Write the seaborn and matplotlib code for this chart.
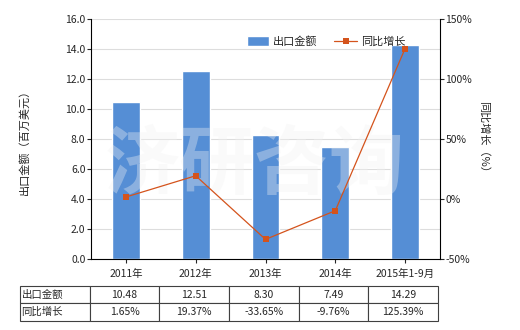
import matplotlib
matplotlib.use("Agg")
import matplotlib.pyplot as plt
import seaborn as sns
import pandas as pd

categories = ["2011年", "2012年", "2013年", "2014年", "2015年1-9月"]
export_values = [10.48, 12.51, 8.30, 7.49, 14.29]
growth_values = [1.65, 19.37, -33.65, -9.76, 125.39]
export_labels = ["10.48", "12.51", "8.30", "7.49", "14.29"]
growth_labels = ["1.65%", "19.37%", "-33.65%", "-9.76%", "125.39%"]
left_ticks = [0, 2, 4, 6, 8, 10, 12, 14, 16]
right_ticks = [-50, 0, 50, 100, 150]

sns.set_style("white")
plt.rcParams['font.family'] = ['Noto Sans CJK SC', 'DejaVu Sans']
plt.rcParams['axes.unicode_minus'] = False

bar_color = "#558ED5"
line_color = "#D4531C"

df = pd.DataFrame({"cat": categories, "export": export_values, "growth": growth_values})

fig = plt.figure(figsize=(5.2, 3.3), dpi=100)
ax = fig.add_axes([91/520, 1-259/330, 349/520, 240/330])

sns.barplot(data=df, x="cat", y="export", color=bar_color, width=0.4,
            saturation=1, ax=ax, label="出口金额", zorder=2)
ax.set_ylim(0, 16)
ax.set_yticks(left_ticks)
ax.set_yticklabels([f"{v:.1f}" for v in left_ticks], fontsize=7.5)
ax.set_xlim(-0.5, 4.5)
ax.set_xlabel("")
ax.set_ylabel("出口金额（百万美元）", fontsize=8)
ax.yaxis.set_label_coords(-0.175, 0.5)
ax.tick_params(axis='x', labelsize=7.5, length=3, direction='out', pad=4, bottom=True)
ax.tick_params(axis='y', length=3, direction='out', pad=1, left=True)
ax.grid(axis='y', color="#DDDDDD", linewidth=0.8, zorder=0)
ax.set_axisbelow(True)
for s in ["top", "right"]:
    ax.spines[s].set_visible(False)
for s in ["left", "bottom"]:
    ax.spines[s].set_color("black")
    ax.spines[s].set_linewidth(0.8)

ax.text(0.47, 0.39, "济研咨询", transform=ax.transAxes, fontsize=54, fontweight='bold',
        color="#F2F2F2", alpha=0.35, ha='center', va='center', zorder=3)

ax2 = ax.twinx()
sns.lineplot(x=list(range(len(categories))), y=growth_values, ax=ax2, color=line_color,
             linewidth=0.9, marker='s', markersize=4, markeredgewidth=0,
             label="同比增长", legend=False, zorder=4)
ax2.set_ylim(-50, 150)
ax2.set_yticks(right_ticks)
ax2.set_yticklabels([f"{v}%" for v in right_ticks], fontsize=7.5)
ax2.set_ylabel("同比增长（%）", fontsize=8, rotation=270, labelpad=12)
ax2.yaxis.set_label_coords(1.14, 0.5)
ax2.tick_params(axis='y', length=3, direction='out', pad=1, right=True)
for s in ["top", "left", "bottom"]:
    ax2.spines[s].set_visible(False)
ax2.spines["right"].set_color("black")
ax2.spines["right"].set_linewidth(0.8)
ax2.grid(False)

h1, l1 = ax.get_legend_handles_labels()
h2, l2 = ax2.get_legend_handles_labels()
if ax.get_legend() is not None:
    ax.get_legend().remove()
ax2.legend(h1 + h2, l1 + l2, loc='upper right', bbox_to_anchor=(0.93, 0.97), ncol=2,
           frameon=False, fontsize=8, handlelength=2.0, handleheight=1.0,
           columnspacing=1.5, handletextpad=0.4)

cell_text = [["出口金额"] + export_labels, ["同比增长"] + growth_labels]
tbl = ax.table(cellText=cell_text, bbox=[(20-91)/349, (259-321)/240, (438-20)/349, (321-285.7)/240],
               cellLoc='center')
tbl.auto_set_font_size(False)
tbl.set_fontsize(7.5)
for (r, c), cell in tbl.get_celld().items():
    cell.set_edgecolor("#404040")
    cell.set_linewidth(0.8)
    if c == 0:
        cell.set_text_props(ha='left')
        cell.PAD = 0.02

fig.savefig("out.png", dpi=100)
